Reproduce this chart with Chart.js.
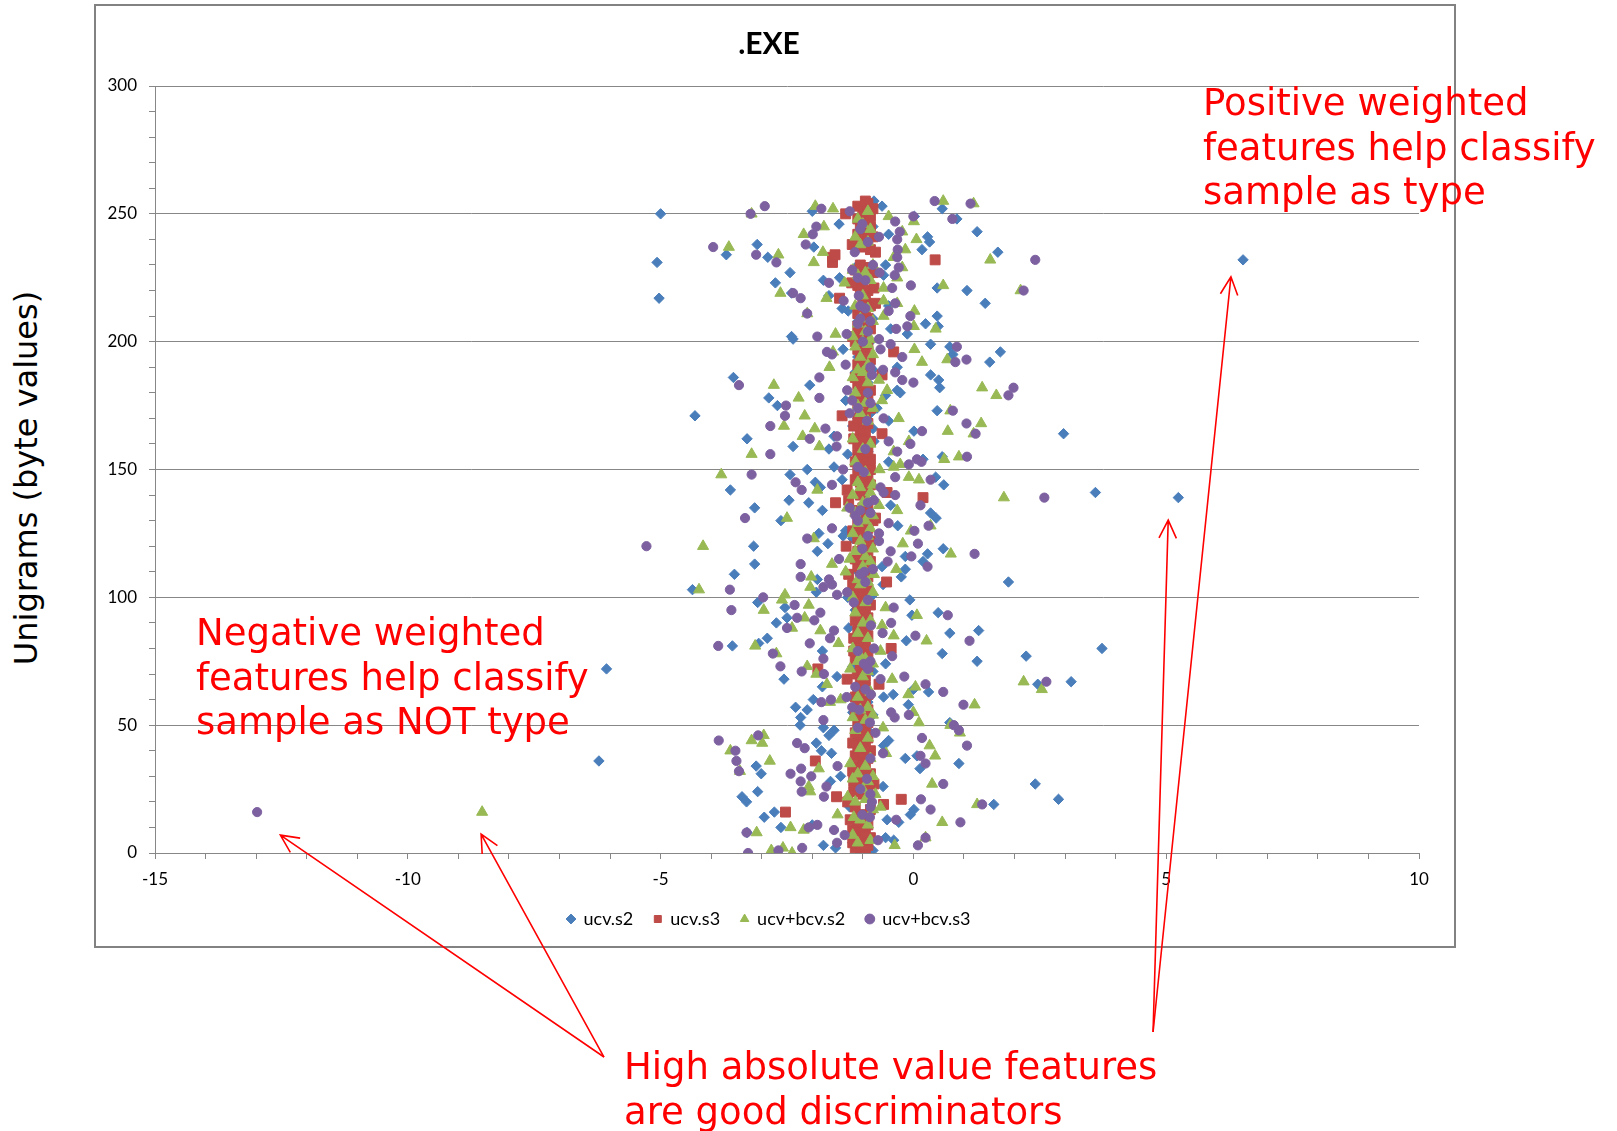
<!DOCTYPE html>
<html>
<head>
<meta charset="utf-8">
<script src="https://cdn.jsdelivr.net/npm/chart.js@4.4.1/dist/chart.umd.min.js"></script>
<style>
  html, body { margin: 0; padding: 0; background: #fff; }
  body { position: relative; width: 1617px; height: 1131px; overflow: hidden; }
  #frame { position: absolute; left: 94px; top: 4px; width: 1358px; height: 940px; border: 2px solid #828282; }
  #wrap { position: absolute; left: 96px; top: 6px; width: 1358px; height: 1125px; }
  .note { position: absolute; z-index: 2; color: #ff0000; font: 37px/44.5px "DejaVu Sans", sans-serif; white-space: nowrap; }
  #ylabel { position: absolute; left: 26px; top: 478px; transform: translate(-50%, -50%) rotate(-90deg);
            font: 32px "DejaVu Sans", sans-serif; color: #000; white-space: nowrap; }
</style>
</head>
<body>
<div id="frame"></div>
<div id="wrap"><canvas id="grafico" width="1358" height="1125"></canvas></div>
<div id="ylabel">Unigrams (byte values)</div>
<div class="note" style="left:1203px; top:81px;">Positive weighted<br>features help classify<br>sample as type</div>
<div class="note" style="left:196px; top:611px;">Negative weighted<br>features help classify<br>sample as NOT type</div>
<div class="note" style="left:624px; top:1045px;">High absolute value features<br>are good discriminators</div>
<script>
// byte value 0..255 on the y axis, one point per byte in every series
var byteValues = Array.from({ length: 256 }, function (_, i) { return i; });

// feature weights, index = byte value
var ucvS2 = [
  -1.0, -0.8, -1.54, -1.78, -1.2, -0.39, -0.55, -0.95, -3.29, -1.1, -2.62, -2.0, -0.29, -0.52, -2.95, -0.06,
  -2.75, 0.01, -1.26, 1.59, -3.3, 2.87, -3.39, -0.85, -3.08, -1.05, -0.6, 2.41, -1.64, -0.9, -1.44, -3.01,
  -1.15, 0.13, -3.11, 0.9, -6.22, -0.16, 0.07, -1.62, -1.82, -0.95, -0.59, -1.92, -0.49, -1.1, -1.67, -0.85,
  -1.57, -1.78, -2.24, 0.72, -1.0, -2.23, -0.8, -1.2, -2.1, -2.33, -0.1, -0.9, -1.98, -0.59, -0.4, 0.3,
  0.0, -1.8, 2.46, 3.12, -2.56, -1.51, -1.05, -0.8, -6.07, -1.2, -0.55, 1.26, -0.95, 2.23, 0.57, -1.8,
  3.73, -3.58, -3.06, -0.14, -2.89, -1.1, 0.72, 1.29, -1.28, -0.85, -2.71, -1.0, -2.5, -0.03, 0.49, -1.15,
  -2.54, -0.9, -3.08, -0.07, -1.3, -0.8, -1.92, -4.37, -1.0, -0.6, 1.88, -1.9, -0.24, -3.54, -1.1, -0.16,
  -0.62, -3.14, 0.19, -0.95, -0.16, 0.28, -1.9, 0.59, -3.16, -1.69, -0.85, -1.2, -1.39, -1.87, -1.34, -0.9,
  -0.31, -1.05, -2.62, 0.45, -0.8, 0.34, -1.8, -3.14, -0.45, -2.07, -2.46, 5.24, -1.0, 3.6, -3.62, -1.84,
  0.6, -1.94, -1.41, 0.44, -2.44, -0.85, -2.1, -1.57, -1.1, -0.49, 0.19, 0.57, -1.3, -0.9, -1.67, -2.38,
  -1.05, -0.78, -3.29, -1.57, 2.97, 0.01, -0.8, -1.2, -0.95, -0.49, -1.1, -4.32, -0.85, 0.47, -0.72, -2.69,
  -1.0, -1.34, -2.86, -0.55, -0.26, -0.32, 0.52, -2.05, -0.9, 0.5, -3.56, 0.34, -1.15, -0.8, -0.32, -1.0,
  1.51, -0.9, -1.1, 0.78, 1.72, -1.39, 0.72, 0.34, -0.85, -2.38, -2.41, -0.12, -0.95, -0.45, 0.49, 0.24,
  -1.1, -0.8, 0.47, -1.0, -1.29, -1.41, -0.49, 1.42, -0.9, -5.03, -1.67, -2.41, 1.06, 0.47, -1.05, -2.73,
  -1.78, -1.46, -0.59, -2.44, -0.85, -1.15, -0.55, -5.07, 6.52, -2.88, -3.7, 1.67, 0.17, -1.97, -3.09, 0.32,
  -0.9, 0.28, -0.49, 1.26, -1.0, -0.8, -1.47, -1.1, 0.86, 0.02, -5.0, -2.0, 0.57, -0.62, -0.9, -0.78
];
var ucvS3 = [
  -1.05, -0.95, -1.15, -0.9, -1.2, -1.0, -0.85, -1.1, -0.95, -1.2, -1.0, -0.9, -1.1, -1.25, -0.95, -1.05,
  -2.53, -0.85, -1.15, -0.59, -1.3, -0.24, -1.52, -1.0, -1.18, -0.9, -1.1, -0.78, -1.18, -0.95, -1.05, -0.85,
  -1.2, -0.95, -1.1, -1.0, -1.94, -0.9, -1.15, -1.0, -0.85, -1.1, -0.95, -1.2, -1.0, -0.9, -1.05, -1.15,
  -0.95, -1.0, -1.1, -0.9, -1.05, -0.95, -1.15, -1.0, -0.9, -1.1, -1.0, -0.95, -1.05, -1.15, -0.9, -1.0,
  -1.1, -0.95, -0.68, -1.05, -1.31, -0.95, -1.11, -1.0, -1.89, -0.9, -1.05, -0.95, -1.15, -1.0, -0.9, -1.18,
  -0.44, -1.05, -0.95, -1.1, -1.18, -0.9, -1.0, -1.1, -0.95, -1.05, -1.0, -1.15, -0.9, -1.05, -0.95, -1.1,
  -1.0, -0.85, -1.1, -1.0, -0.95, -1.15, -1.0, -0.9, -1.05, -1.2, -0.53, -1.0, -0.9, -1.28, -1.05, -0.95,
  -1.1, -1.0, -0.85, -1.15, -1.0, -0.9, -1.1, -0.95, -1.33, -1.0, -0.85, -1.1, -0.95, -1.05, -1.2, -0.9,
  -1.0, -1.1, -0.8, -0.75, -1.05, -0.95, -1.15, -1.0, -0.9, -1.54, -1.28, 0.19, -1.05, -0.52, -1.31, -1.0,
  -0.85, -1.05, -1.15, -0.9, -1.0, -1.1, -0.85, -1.05, -0.95, -1.15, -0.85, -1.0, -1.1, -0.9, -1.05, -0.95,
  -1.1, -0.85, -1.18, -1.0, -0.62, -0.95, -1.05, -1.18, -0.9, -1.0, -1.1, -1.41, -0.95, -1.05, -0.85, -1.0,
  -1.1, -0.9, -1.15, -0.95, -1.05, -0.85, -1.0, -1.1, -0.95, -1.05, -1.15, -0.62, -0.9, -1.05, -0.95, -1.1,
  -1.0, -0.85, -1.05, -0.95, -0.39, -1.1, -1.0, -0.9, -1.15, -1.05, -1.2, -0.95, -1.0, -0.85, -1.1, -0.95,
  -1.05, -0.9, -1.0, -1.1, -0.95, -1.05, -0.85, -0.75, -1.0, -1.46, -0.95, -1.05, -0.9, -0.78, -1.1, -1.22,
  -1.0, -0.9, -1.05, -0.8, -1.15, -0.95, -1.05, -1.6, 0.43, -1.6, -1.55, -0.75, -0.85, -1.05, -1.21, -0.9,
  -1.0, -0.8, -1.1, -0.9, -1.0, -0.85, -1.05, -0.95, -1.1, -0.85, -1.34, -1.0, -0.8, -1.1, -0.9, -0.95
];
var ucvBcvS2 = [
  -2.4, -2.81, -2.58, -0.37, -1.1, -0.85, 0.24, -1.2, -3.1, -2.17, -2.43, -0.9, 0.57, -1.05, -1.18, -1.5,
  -8.53, -0.8, -0.65, 1.26, -1.15, -0.95, -1.3, -0.75, -2.04, -1.0, -2.07, 0.37, -0.9, -1.2, -0.8, -1.1,
  -3.43, -1.87, -0.95, -1.25, -2.84, -0.85, 0.43, -0.54, -3.62, -1.05, 0.32, -2.99, -3.2, -0.9, -2.96, 0.92,
  -1.15, -0.6, 0.73, 0.11, -0.95, -1.2, -0.8, 0.0, -1.05, -0.9, 1.21, -1.65, -1.44, -1.1, -0.1, -0.85,
  2.54, 0.04, -1.71, 2.18, -0.42, -1.0, -1.92, -0.9, -1.25, -2.1, -0.8, -1.1, -0.95, -1.05, -2.71, -0.65,
  -1.2, -3.13, -1.48, 0.26, -0.9, -0.39, -1.1, -1.84, -2.4, -0.62, -1.0, -0.85, -2.15, 0.07, -1.15, -2.96,
  -0.55, -2.07, -0.95, -2.6, -1.2, -2.54, -0.8, -4.24, -2.04, -1.05, -0.9, -1.1, -2.02, -0.78, -1.34, -0.34,
  -1.0, -1.61, -0.85, -1.26, -0.95, 0.74, -1.15, -0.8, -4.16, -0.21, -1.05, -1.97, -0.9, -1.2, -0.05, -0.85,
  0.34, -1.1, -0.95, -2.5, -0.8, -1.15, -0.32, -1.31, -0.68, -1.0, -0.9, 1.79, -1.2, -0.85, -1.9, -1.05,
  -0.8, -1.1, 0.11, -0.09, -3.8, -0.95, -0.67, -0.39, -0.26, -1.15, 0.61, 0.9, -3.2, -0.39, -1.0, -1.86,
  -0.85, -0.09, -1.2, -2.19, 1.19, 0.68, -1.95, -2.56, 1.34, -0.9, -0.29, -2.15, -1.05, 0.73, -0.8, -1.1,
  -0.95, -0.62, -2.27, 1.64, -1.15, -0.52, 1.36, -2.76, -0.9, -0.68, -1.2, -0.85, -1.0, -1.1, -1.66, -0.9,
  0.17, 0.67, -1.05, -0.8, -1.59, 0.02, -1.15, -0.9, -1.0, -0.85, -1.2, -1.54, -0.95, 0.44, 0.01, -1.1,
  -0.8, -1.05, -0.59, -2.1, 0.02, -0.9, -1.15, -0.32, -0.59, -1.72, -1.0, -2.63, 2.12, -0.59, 0.59, -1.36,
  -0.85, -0.32, -1.1, -0.95, -1.2, -0.22, -0.8, -1.97, 1.52, -0.39, -2.67, -1.79, -0.16, -3.65, -1.05, -0.9,
  0.06, -1.15, -2.17, -0.22, -0.85, -1.77, -1.0, 0.01, -1.1, -0.49, -3.2, -0.9, -1.59, -1.94, 1.19, 0.59
];
var ucvBcvS3 = [
  -3.27, -2.67, -2.2, 0.09, -1.51, -0.7, 0.24, -1.36, -3.3, -1.57, -2.07, -1.9, 0.93, -0.34, -0.86, -1.01,
  -12.98, 0.34, -0.85, 1.36, -0.82, 0.15, -1.77, -0.85, -2.21, -1.05, -1.72, 0.59, -2.23, -0.92, -2.02, -2.43,
  -3.45, -2.22, -1.5, 0.24, -3.5, -0.85, 0.14, -0.6, -3.52, -2.15, 1.06, -2.3, -3.85, 0.17, -3.07, -0.75,
  0.9, -1.1, 0.8, -0.86, -1.78, -0.37, -0.09, -0.44, -1.07, -1.21, 0.99, -1.82, -1.63, -1.32, -0.84, 0.59,
  -0.95, -1.15, 0.24, 2.63, -0.65, -0.18, -1.77, -2.21, -0.9, -2.63, -0.98, -0.85, -1.78, -0.42, -2.78, -1.1,
  -0.78, -3.86, -2.05, 1.11, -1.65, 0.04, -0.61, -1.57, -2.5, -0.84, -0.44, -1.96, -2.3, 0.68, -1.84, -3.6,
  -0.39, -2.35, -1.18, -0.9, -2.97, -1.51, -1.31, -3.63, -1.78, -1.61, -0.95, -1.67, -2.23, -1.05, -0.97, -0.8,
  0.28, -2.23, -0.51, -1.47, -0.04, 1.21, -0.45, -1.01, -5.28, 0.09, -0.68, -2.1, -0.9, -0.68, 0.02, -1.61,
  0.3, -0.49, -1.1, -3.33, -1.15, -0.85, -1.05, -1.26, 0.14, -0.9, -0.78, 2.59, -0.36, -0.59, -2.21, -0.65,
  -1.61, -2.33, 0.34, -0.36, -3.2, -0.98, -1.39, -1.1, -0.09, 0.16, 0.07, 1.06, -2.83, -0.32, -0.95, -1.52,
  -0.06, -0.49, -2.05, -1.51, 1.23, 0.17, -1.74, -2.83, 1.05, -0.92, -0.59, -2.54, -1.26, 0.78, -1.1, -2.52,
  -0.85, -1.21, -1.86, 1.88, -0.9, -1.31, 1.98, -3.45, 0.0, -0.22, -1.86, -0.82, -0.36, -0.6, -0.85, -1.34,
  0.83, 1.05, -0.22, -1.61, -1.71, -0.65, 0.86, -0.45, -1.0, -0.68, -1.9, -1.32, -0.9, -0.34, -0.12, -1.1,
  -0.85, -1.05, -0.06, -2.1, -0.49, -0.95, -1.05, -0.36, -1.38, -2.23, -1.08, -2.38, 2.18, -0.42, -0.05, -1.67,
  -0.95, -1.1, -0.37, -0.67, -1.21, -0.29, -0.8, -2.71, 2.41, -0.32, -3.11, -1.16, -0.31, -3.96, -2.13, -0.9,
  -0.32, -0.68, -1.99, -0.27, -1.05, -1.92, -1.01, -0.36, 0.77, 0.0, -3.22, -1.26, -1.82, -2.94, 1.13, 0.42
];

var seriesNames = ["ucv.s2", "ucv.s3", "ucv+bcv.s2", "ucv+bcv.s3"];
var xMajorTicks = [-15, -10, -5, 0, 5, 10];
var yMajorTicks = [0, 50, 100, 150, 200, 250, 300];

// annotation arrows, in axis units: tail below the plot, head near the outliers
var arrows = [
  { from: [-6.12, -79.8], to: [-12.52, 7.0] },
  { from: [-6.12, -79.8], to: [-8.55, 7.4] },
  { from: [4.74, -70.0], to: [5.04, 130.2] },
  { from: [4.74, -70.0], to: [6.28, 225.4] }
];

var GRID = "#878787";

function puntos(xs) {
  return xs.map(function (v, i) { return { x: v, y: byteValues[i] }; });
}

var flechas = {
  id: "flechas",
  afterDraw: function (chart) {
    var ctx = chart.ctx, sx = chart.scales.x, sy = chart.scales.y;
    ctx.save();
    ctx.strokeStyle = "#ff0000";
    ctx.lineWidth = 1.6;
    arrows.forEach(function (a) {
      var x0 = sx.getPixelForValue(a.from[0]), y0 = sy.getPixelForValue(a.from[1]);
      var x1 = sx.getPixelForValue(a.to[0]), y1 = sy.getPixelForValue(a.to[1]);
      var ang = Math.atan2(y1 - y0, x1 - x0);
      ctx.beginPath();
      ctx.moveTo(x0, y0);
      ctx.lineTo(x1, y1);
      ctx.moveTo(x1 - 20 * Math.cos(ang - 0.45), y1 - 20 * Math.sin(ang - 0.45));
      ctx.lineTo(x1, y1);
      ctx.lineTo(x1 - 20 * Math.cos(ang + 0.45), y1 - 20 * Math.sin(ang + 0.45));
      ctx.stroke();
    });
    ctx.restore();
  }
};

function serie(label, xs, color, style, radius, order) {
  return {
    label: label,
    data: puntos(xs),
    pointStyle: style,
    pointRadius: radius,
    pointHoverRadius: radius,
    backgroundColor: color,
    borderColor: color,
    pointBackgroundColor: color,
    pointBorderColor: color,
    pointBorderWidth: 1,
    order: order
  };
}

document.addEventListener("DOMContentLoaded", function () {
  var ctx = document.getElementById("grafico").getContext("2d");
  var myChart = new Chart(ctx, {
    type: "scatter",
    data: {
      datasets: [
        serie(seriesNames[0], ucvS2, "#4a7ebb", "rectRot", 5.2, 4),
        serie(seriesNames[1], ucvS3, "#be4b48", "rect", 7.0, 3),
        serie(seriesNames[2], ucvBcvS2, "#98b954", "triangle", 6.4, 2),
        serie(seriesNames[3], ucvBcvS3, "#7d60a0", "circle", 4.6, 1)
      ]
    },
    options: {
      responsive: false,
      animation: false,
      layout: { padding: { left: 0, right: 12, top: 0, bottom: 193 } },
      plugins: {
        title: {
          display: true,
          text: ".EXE",
          color: "#000",
          font: { family: "Lato", size: 30, weight: "bold" },
          padding: { top: 20, bottom: 24 }
        },
        legend: {
          position: "bottom",
          labels: {
            usePointStyle: true,
            boxWidth: 7,
            boxHeight: 7,
            padding: 21,
            color: "#000",
            font: { family: "Lato", size: 18 },
            sort: function (a, b) { return a.datasetIndex - b.datasetIndex; }
          }
        },
        tooltip: { enabled: false }
      },
      scales: {
        x: {
          type: "linear",
          min: -15,
          max: 10,
          afterFit: function (s) { s.height = 36; },
          ticks: {
            stepSize: 1,
            autoSkip: false,
            maxRotation: 0,
            padding: 10,
            color: "#000",
            font: { family: "Lato", size: 17 },
            callback: function (v) { return xMajorTicks.indexOf(Math.round(v)) >= 0 ? String(Math.round(v)) : ""; }
          },
          grid: { drawOnChartArea: false, tickLength: 6, tickColor: GRID },
          border: { color: GRID }
        },
        y: {
          type: "linear",
          min: 0,
          max: 300,
          afterFit: function (s) { s.width = 59; },
          ticks: {
            stepSize: 10,
            autoSkip: false,
            padding: 12,
            color: "#000",
            font: { family: "Lato", size: 17 },
            callback: function (v) { return yMajorTicks.indexOf(Math.round(v)) >= 0 ? String(Math.round(v)) : ""; }
          },
          grid: {
            color: function (c) { return c.tick && yMajorTicks.indexOf(Math.round(c.tick.value)) >= 0 ? GRID : "rgba(0,0,0,0)"; },
            tickLength: 6,
            tickColor: GRID
          },
          border: { color: GRID }
        },
        // empty right-hand strip so the title sits where Excel put it
        derecha: {
          type: "linear",
          position: "right",
          min: 0,
          max: 1,
          afterFit: function (s) { s.width = 23; },
          ticks: { display: false },
          grid: { display: false },
          border: { display: false }
        }
      }
    },
    plugins: [flechas]
  });
});
</script>
</body>
</html>
